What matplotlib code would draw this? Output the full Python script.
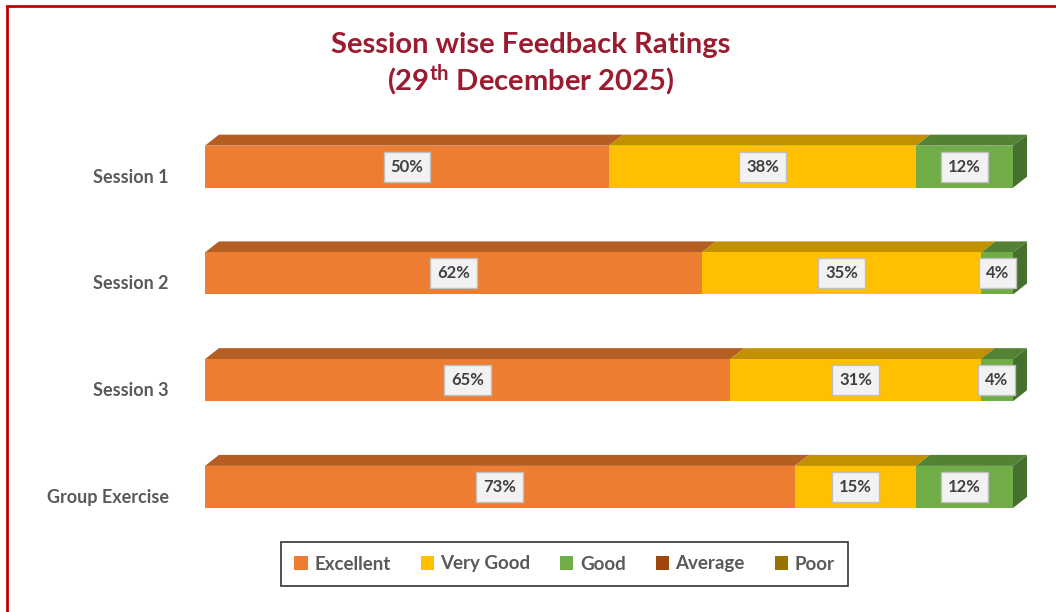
import numpy as np
import matplotlib
matplotlib.use("Agg")
import matplotlib.pyplot as plt
from matplotlib.patches import Polygon, Rectangle
from matplotlib.transforms import ScaledTranslation

plt.rcParams['font.family'] = ['Lato', 'DejaVu Sans']
plt.rcParams['mathtext.fontset'] = 'custom'
plt.rcParams['mathtext.rm'] = 'Lato:bold'
plt.rcParams['mathtext.it'] = 'Lato:bold'
plt.rcParams['mathtext.bf'] = 'Lato:bold'

# data
sessions = ["Session 1", "Session 2", "Session 3", "Group Exercise"]
excellent = [50, 61.5, 65, 73]
very_good = [38, 34.6, 31, 15]
good = [12, 3.9, 4, 12]
average = [0, 0, 0, 0]
poor = [0, 0, 0, 0]
series_names = ["Excellent", "Very Good", "Good", "Average", "Poor"]

front = ["#ED7D31", "#FFC000", "#70AD47", "#9E480E", "#997300"]
top = ["#B55E24", "#C29100", "#548235", "#7A370B", "#735700"]
side = ["#B55E24", "#C29100", "#46702D", "#7A370B", "#735700"]
gray = "#595959"

W, H = 1056, 612
fig = plt.figure(figsize=(W / 100, H / 100), dpi=100)
ax = fig.add_axes([205 / W, 1 - 540.3 / H, 808 / W, 427 / H])
ax.set_xlim(0, 100)
ax.set_ylim(3.5, -0.5)

y = np.arange(len(sessions))
h = 0.394
dx, dy = 1.73, 0.103

all_series = [excellent, very_good, good, average, poor]
left = np.zeros(len(sessions))
totals = np.sum(all_series, axis=0)
for k, vals in enumerate(all_series):
    vals = np.array(vals, dtype=float)
    ax.barh(y, vals, left=left, height=h, color=front[k], label=series_names[k], zorder=2)
    for i in range(len(sessions)):
        if vals[i] <= 0:
            continue
        l, r = left[i], left[i] + vals[i]
        yt = y[i] - h / 2
        ax.add_patch(Polygon([(l, yt), (l + dx, yt - dy), (r + dx, yt - dy), (r, yt)],
                             closed=True, color=top[k], lw=0, clip_on=False, zorder=1 + k * 0.01))
        if abs(r - totals[i]) < 1e-6:
            ax.add_patch(Polygon([(r, yt), (r + dx, yt - dy), (r + dx, yt - dy + h), (r, yt + h)],
                                 closed=True, color=side[k], lw=0, clip_on=False, zorder=3))
        ax.text((l + r) / 2, y[i], f"{round(vals[i]):d}%", ha="center", va="center",
                fontsize=12, fontweight="bold", color="#404040", zorder=5,
                bbox=dict(boxstyle="square,pad=0.42", fc="#F2F2F2", ec="#BFBFBF", lw=1))
    left = left + vals

ax.set_yticks(y)
ax.set_yticklabels(sessions, fontsize=13, fontweight="bold", color=gray)
ax.tick_params(axis="y", length=0, pad=26)
ax.tick_params(axis="x", bottom=False, labelbottom=False)
off = ScaledTranslation(0, -9 / 100, fig.dpi_scale_trans)
for lbl in ax.get_yticklabels():
    lbl.set_transform(lbl.get_transform() + off)
for s in ax.spines.values():
    s.set_visible(False)
ax.patch.set_alpha(0)

title_color = "#9B1B30"
fig.text(531 / W, 1 - 45 / H, "Session wise Feedback Ratings", ha="center", va="center",
         fontsize=21, fontweight="bold", color=title_color)
fig.text(531 / W, 1 - 80 / H, r"(29$^{\mathrm{th}}$ December 2025)", ha="center", va="center",
         fontsize=21, fontweight="bold", color=title_color)

leg = fig.legend(loc="center", bbox_to_anchor=(564.5 / W, 1 - 564 / H), ncol=5,
                 frameon=True, fancybox=False, edgecolor="black", handlelength=0.7,
                 handleheight=0.7, handletextpad=0.35, columnspacing=1.6, borderpad=0.7,
                 prop={"size": 13.5, "weight": "bold"})
leg.get_frame().set_linewidth(1.2)
for t in leg.get_texts():
    t.set_color(gray)

# outer border
fig.patches.append(Rectangle((7 / W, -0.1), 1.2, 1.1 - 6 / H, transform=fig.transFigure,
                             fill=False, edgecolor="#C00000", lw=2, zorder=10))

fig.savefig("out.png", dpi=100)
